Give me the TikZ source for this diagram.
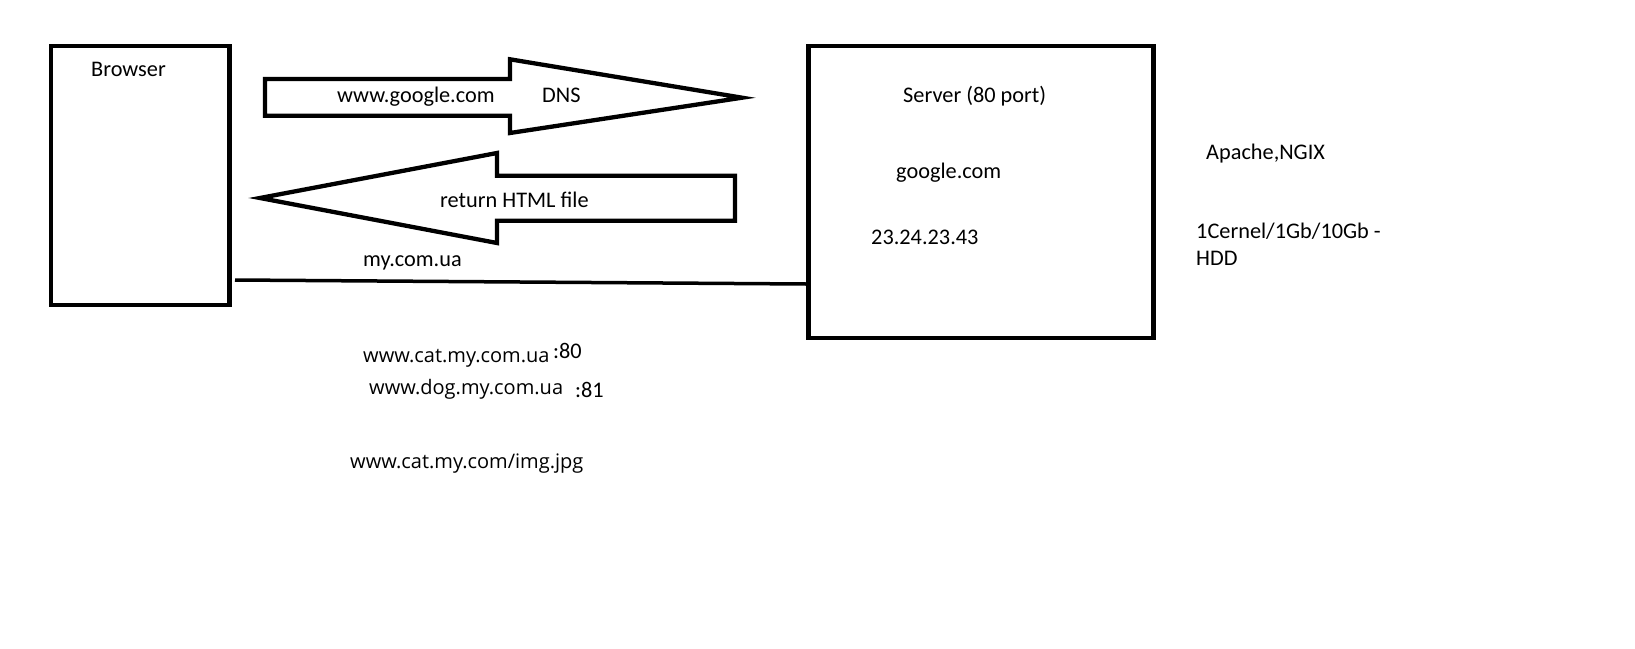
\documentclass[tikz,border=0pt]{standalone}
\usepackage{fontspec}
\setmainfont{Carlito}
\newfontfamily\urlfont{Open Sans}
\begin{document}
\begin{tikzpicture}[x=1pt,y=-1pt,
  box/.style={draw, line width=4.5pt, inner sep=0pt},
  blockarrow/.style={draw, line width=4.3pt, line join=miter},
  lbl/.style={inner sep=0pt, anchor=base west, font=\fontsize{22.3}{26}\selectfont},
  ulbl/.style={inner sep=0pt, anchor=base west, font=\urlfont\fontsize{20}{24}\selectfont},
  link/.style={line width=3.5pt}]
\useasboundingbox[fill=white] (0,0) rectangle (1635,648);
% boxes
\node[box, minimum width=178.6pt, minimum height=259pt] (browser) at (140.3,175.5) {};
\node[box, minimum width=345pt, minimum height=292pt] (server) at (981,192) {};
% DNS block arrow
\draw[blockarrow] (265,79) -- (510,79) -- (510,59.3) -- (742,97.7) -- (510,133) -- (510,115.7) -- (265,115.7) -- cycle;
% return block arrow
\draw[blockarrow] (735,175.7) -- (497,175.7) -- (497,153) -- (260,198) -- (497,243) -- (497,220.7) -- (735,220.7) -- cycle;
% connector line
\coordinate (lstart) at (235,280);
\draw[link] (lstart) -- (server.west |- 0,284);
% labels
\node[lbl] (tbrowser) at (91,76) {Browser};
\node[lbl] (tgoogle) at (337,102) {www.google.com};
\node[lbl] (tdns) at (542,102.7) {DNS};
\node[lbl] (treturn) at (440,207) {return HTML file};
\node[lbl] (tmy) at (363,266) {my.com.ua};
\node[lbl] (tserver) at (903,102) {Server (80 port)};
\node[lbl] (tgcom) at (896,178) {google.com};
\node[lbl] (tip) at (871,244) {23.24.23.43};
\node[lbl] (tapache) at (1206,159) {Apache,NGIX};
\node[lbl] (tcernel) at (1196,238) {1Cernel/1Gb/10Gb -};
\node[lbl] (thdd) at (1196,265) {HDD};
\node[ulbl] (tcat) at (363,362.7) {www.cat.my.com.ua};
\node[lbl] (t80) at (553,358) {:80};
\node[ulbl] (tdog) at (369,394) {www.dog.my.com.ua};
\node[lbl] (t81) at (575,397) {:81};
\node[ulbl] (timg) at (350,468) {www.cat.my.com/img.jpg};
\end{tikzpicture}
\end{document}
